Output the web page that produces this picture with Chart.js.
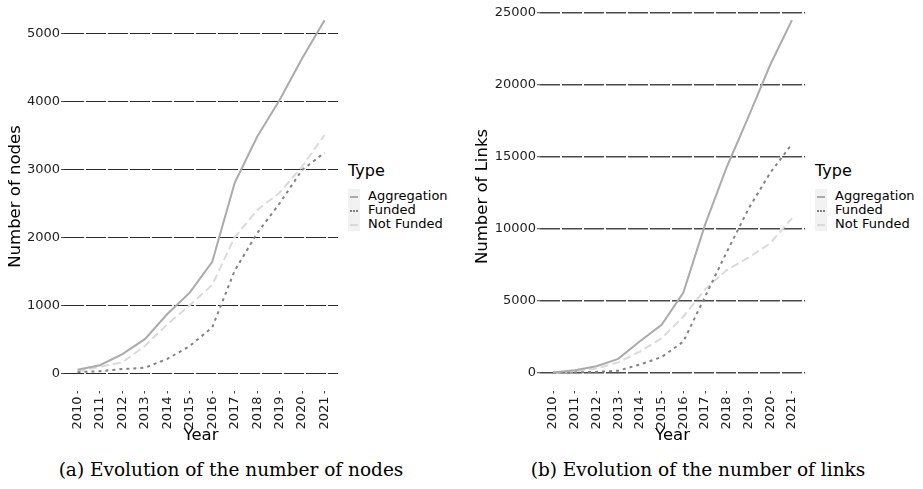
<!DOCTYPE html>
<html>
<head>
<meta charset="utf-8">
<script src="https://cdn.jsdelivr.net/npm/chart.js@4.4.1/dist/chart.umd.min.js"></script>
<style>
  html, body { margin: 0; padding: 0; background: #fff; }
  body { width: 923px; height: 489px; position: relative; overflow: hidden; font-family: "DejaVu Sans", sans-serif; }
  canvas { position: absolute; top: 0; }
  .legend { position: absolute; color: #000; }
  .legend .title { position: absolute; left: 0; top: 0; font-size: 16px; line-height: 20px; white-space: nowrap; }
  .legend .keys { position: absolute; left: 0; top: 28px; width: 12px; height: 42px; background: #f2f2f2; }
  .legend .row { position: absolute; left: 20px; font-size: 13px; line-height: 14px; white-space: nowrap; }
  .legend .swatch { position: absolute; left: 2px; width: 8px; height: 0; }
  .caption { position: absolute; top: 458px; font-family: "DejaVu Serif", serif; font-size: 18.5px; line-height: 24px; white-space: nowrap; transform: translateX(-50%); }
</style>
</head>
<body>
<canvas id="nodesChart" width="338" height="452" style="left:0"></canvas>
<canvas id="linksChart" width="335" height="452" style="left:470px"></canvas>

<div class="legend" id="nodesLegend" style="left:348px; top:161px"></div>
<div class="legend" id="linksLegend" style="left:815px; top:161px"></div>

<div class="caption" style="left:231px">(a) Evolution of the number of nodes</div>
<div class="caption" style="left:698px">(b) Evolution of the number of links</div>

<script>
// ---- data ---------------------------------------------------------------
var years = [2010, 2011, 2012, 2013, 2014, 2015, 2016, 2017, 2018, 2019, 2020, 2021];
var seriesNames = ['Aggregation', 'Funded', 'Not Funded'];

var nodesAggregation = [50, 117, 280, 500, 870, 1185, 1640, 2800, 3480, 4020, 4630, 5195];
var nodesFunded      = [15, 30, 60, 80, 210, 400, 675, 1510, 2060, 2500, 2990, 3245];
var nodesNotFunded   = [25, 93, 160, 400, 720, 1000, 1300, 2000, 2400, 2655, 3040, 3505];

var linksAggregation = [30, 180, 460, 970, 2200, 3330, 5580, 10300, 14300, 17800, 21400, 24500];
var linksFunded      = [0, 30, 70, 150, 580, 1100, 2170, 5300, 8400, 11400, 13900, 15900];
var linksNotFunded   = [0, 100, 300, 730, 1480, 2400, 3900, 5800, 7150, 8000, 9000, 10750];

var nodesTicks = [0, 1000, 2000, 3000, 4000, 5000];
var linksTicks = [0, 5000, 10000, 15000, 20000, 25000];

// ---- styles -------------------------------------------------------------
var LINE_STYLES = {
  'Aggregation': { color: '#ababab', dash: [] },
  'Funded':      { color: '#828282', dash: [3, 4] },
  'Not Funded':  { color: '#dadada', dash: [8, 4] }
};
var AXIS_FONT = { family: 'DejaVu Sans', size: 13 };
var TITLE_FONT = { family: 'DejaVu Sans', size: 16.5 };

function toPoints(values) {
  return values.map(function (v, i) { return { x: years[i], y: v }; });
}

function makeDatasets(seriesValues) {
  return seriesNames.map(function (name, i) {
    var s = LINE_STYLES[name];
    return {
      label: name,
      data: toPoints(seriesValues[i]),
      borderColor: s.color,
      borderDash: s.dash,
      borderWidth: 2,
      pointRadius: 0,
      tension: 0,
      fill: false
    };
  });
}

function makeChart(canvasId, seriesValues, yTicks, yMin, yMax, yTitle, yAxisWidth, yTitlePad, gridColor, gridWidth) {
  var ctx = document.getElementById(canvasId);
  return new Chart(ctx, {
    type: 'line',
    data: { datasets: makeDatasets(seriesValues) },
    options: {
      responsive: false,
      animation: false,
      layout: { padding: { top: 2.5, right: 0, bottom: 0, left: 0 } },
      plugins: { legend: { display: false }, tooltip: { enabled: false } },
      scales: {
        x: {
          type: 'linear',
          min: years[0] - 0.6,
          max: years[years.length - 1] + 0.6,
          afterBuildTicks: function (scale) {
            scale.ticks = years.map(function (y) { return { value: y }; });
          },
          afterFit: function (scale) {
            scale.height = 61.5;
            scale.paddingLeft = 0;
            scale.paddingRight = 0;
          },
          ticks: {
            color: '#1e1e1e', font: AXIS_FONT, padding: 3,
            autoSkip: false, minRotation: 90, maxRotation: 90,
            callback: function (v) { return String(v); }
          },
          grid: { drawOnChartArea: false, drawTicks: true, tickLength: 3, color: '#444', tickWidth: 1 },
          border: { display: false },
          title: { display: true, text: 'Year', color: '#000', font: TITLE_FONT, padding: { top: 6, bottom: 6 } }
        },
        y: {
          min: yMin,
          max: yMax,
          afterBuildTicks: function (scale) {
            scale.ticks = yTicks.map(function (v) { return { value: v }; });
          },
          afterFit: function (scale) {
            scale.width = yAxisWidth;
            scale.paddingTop = 0;
            scale.paddingBottom = 0;
          },
          ticks: {
            color: '#1e1e1e', font: AXIS_FONT, padding: 1,
            callback: function (v) { return String(v); }
          },
          grid: { color: gridColor, lineWidth: gridWidth, tickLength: 3, tickColor: '#444', tickWidth: 1, tickBorderDash: [] },
          border: { display: false, dash: [20, 2] },
          title: { display: true, text: yTitle, color: '#000', font: TITLE_FONT, padding: { top: yTitlePad, bottom: yTitlePad } }
        }
      }
    }
  });
}

function buildLegend(id) {
  var box = document.getElementById(id);
  var html = '<div class="title">Type</div><div class="keys">';
  seriesNames.forEach(function (name, i) {
    var s = LINE_STYLES[name];
    var style = s.dash.length === 0 ? 'solid' : (s.dash[0] < 5 ? 'dotted' : 'dashed');
    html += '<div class="swatch" style="top:' + (7 + i * 14) + 'px;border-top:2px ' + style + ' ' + s.color + '"></div>';
  });
  html += '</div>';
  seriesNames.forEach(function (name, i) {
    html += '<div class="row" style="top:' + (28 + i * 14) + 'px">' + name + '</div>';
  });
  box.innerHTML = html;
}

makeChart('nodesChart', [nodesAggregation, nodesFunded, nodesNotFunded], nodesTicks,
  -255, 5455, 'Number of nodes', 64, 6, '#2a2a2a', 1.1);
makeChart('linksChart', [linksAggregation, linksFunded, linksNotFunded], linksTicks,
  -1225, 25725, 'Number of Links', 70, 3, '#4a4a4a', 1.5);

buildLegend('nodesLegend');
buildLegend('linksLegend');
</script>
</body>
</html>
